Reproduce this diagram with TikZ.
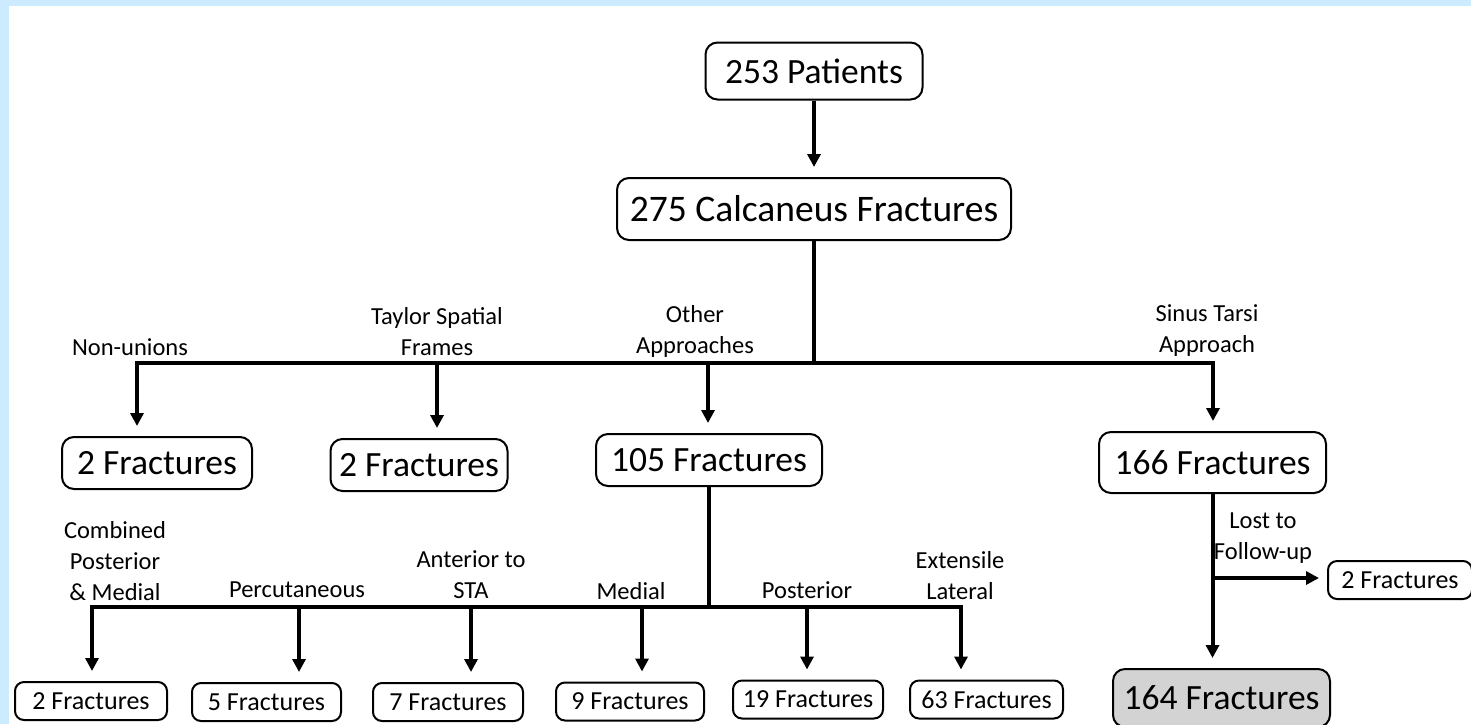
\documentclass[tikz,border=0pt]{standalone}
\usepackage{fontspec}
\setmainfont{Carlito}
\usetikzlibrary{arrows.meta,calc}
\definecolor{bgblue}{RGB}{204,235,254}
\definecolor{boxgray}{RGB}{211,211,211}
\begin{document}
\begin{tikzpicture}[x=1pt,y=-1pt,
  box/.style={draw, line width=2pt, rounded corners=12pt, fill=white, inner sep=0pt, align=center},
  big/.style={box, font=\fontsize{35.5}{40}\selectfont},
  small/.style={box, rounded corners=9pt, font=\fontsize{26}{30}\selectfont, minimum height=38pt},
  lbl/.style={align=center, font=\fontsize{24.5}{31}\selectfont, inner sep=0pt},
  conn/.style={line width=4pt},
  arr/.style={conn, -{Triangle[width=13pt,length=13pt]}, shorten >=10pt}]
\useasboundingbox (0,0) rectangle (1471,724);
\clip (0,0) rectangle (1471,724);
\fill[bgblue] (0,0) rectangle (1471,724);
\fill[white] (9,6) rectangle (1471,724);

% top nodes
\node[big, minimum width=217pt, minimum height=57pt] (pat) at (814,71) {253 Patients};
\node[big, font=\fontsize{37.5}{42}\selectfont, minimum width=394pt, minimum height=62pt] (calc) at (814,209) {275 Calcaneus Fractures};

% second row
\node[big, minimum width=190pt, minimum height=52pt] (b1) at (157,463) {2 Fractures};
\node[big, minimum width=177pt, minimum height=52pt] (b2) at (419,465) {2 Fractures};
\node[big, minimum width=226pt, minimum height=52pt] (b3) at (709,460) {105 Fractures};
\node[big, minimum width=227pt, minimum height=61pt] (b4) at (1212.5,462.5) {166 Fractures};

% right side
\node[small, minimum width=144pt] (lost) at (1400,580) {2 Fractures};
\node[big, fill=boxgray, minimum width=217pt, minimum height=58pt] (c7) at (1221.5,698) {164 Fractures};

% bottom row
\node[small, minimum width=152pt] (c1) at (91,701) {2 Fractures};
\node[small, minimum width=149pt] (c2) at (266.5,702) {5 Fractures};
\node[small, minimum width=150pt] (c3) at (448,702) {7 Fractures};
\node[small, minimum width=148pt] (c4) at (630,701.5) {9 Fractures};
\node[small, minimum width=150pt] (c5) at (808,699.5) {19 Fractures};
\node[small, minimum width=153pt] (c6) at (986.5,699.5) {63 Fractures};

% labels
\node[lbl] (l1) at (130,347) {Non-unions};
\node[lbl] (l2) at (437,332) {Taylor Spatial\\Frames};
\node[lbl] (l3) at (695,331) {Other\\Approaches};
\node[lbl] (l4) at (1207,331) {Sinus Tarsi\\Approach};
\node[lbl] (m1) at (115,561) {Combined\\Posterior\\\& Medial};
\node[lbl] (m2) at (297,590) {Percutaneous};
\node[lbl] (m3) at (471,575) {Anterior to\\STA};
\node[lbl] (m4) at (631,591) {Medial};
\node[lbl] (m5) at (807,590) {Posterior};
\node[lbl] (m6) at (960,576) {Extensile\\Lateral};
\node[lbl] (lf) at (1263,538) {Lost to\\Follow-up};

% connectors top
\draw[arr] (pat.south) -- (calc.north);
\coordinate (h1) at (137,363);
\coordinate (h2) at (437,363);
\coordinate (h3) at (708,363);
\coordinate (h4) at (1213,363);
\draw[conn] (calc.south) -- (calc.south |- h1);
\draw[conn, line cap=rect] (h1) -- (h4);
\draw[arr] (h1) -- (h1 |- b1.north);
\draw[arr] (h2) -- (h2 |- b2.north);
\draw[arr] (h3) -- (h3 |- b3.north);
\draw[arr] (h4) -- (h4 |- b4.north);

% connectors bottom
\coordinate (g1) at (92,607);
\coordinate (g2) at (299,607);
\coordinate (g3) at (471,607);
\coordinate (g4) at (642,607);
\coordinate (g5) at (807,607);
\coordinate (g6) at (961,607);
\draw[conn] (b3.south) -- (b3.south |- g1);
\draw[conn, line cap=rect] (g1) -- (g6);
\draw[arr] (g1) -- (g1 |- c1.north);
\draw[arr] (g2) -- (g2 |- c2.north);
\draw[arr] (g3) -- (g3 |- c3.north);
\draw[arr] (g4) -- (g4 |- c4.north);
\draw[arr] (g5) -- (g5 |- c5.north);
\draw[arr] (g6) -- (g6 |- c6.north);

% right branch
\draw[arr] (b4.south) -- (b4.south |- c7.north);
\coordinate (r1) at (1212.5,578);
\draw[arr, shorten >=8pt] (r1) -- (r1 -| lost.west);
\end{tikzpicture}
\end{document}
